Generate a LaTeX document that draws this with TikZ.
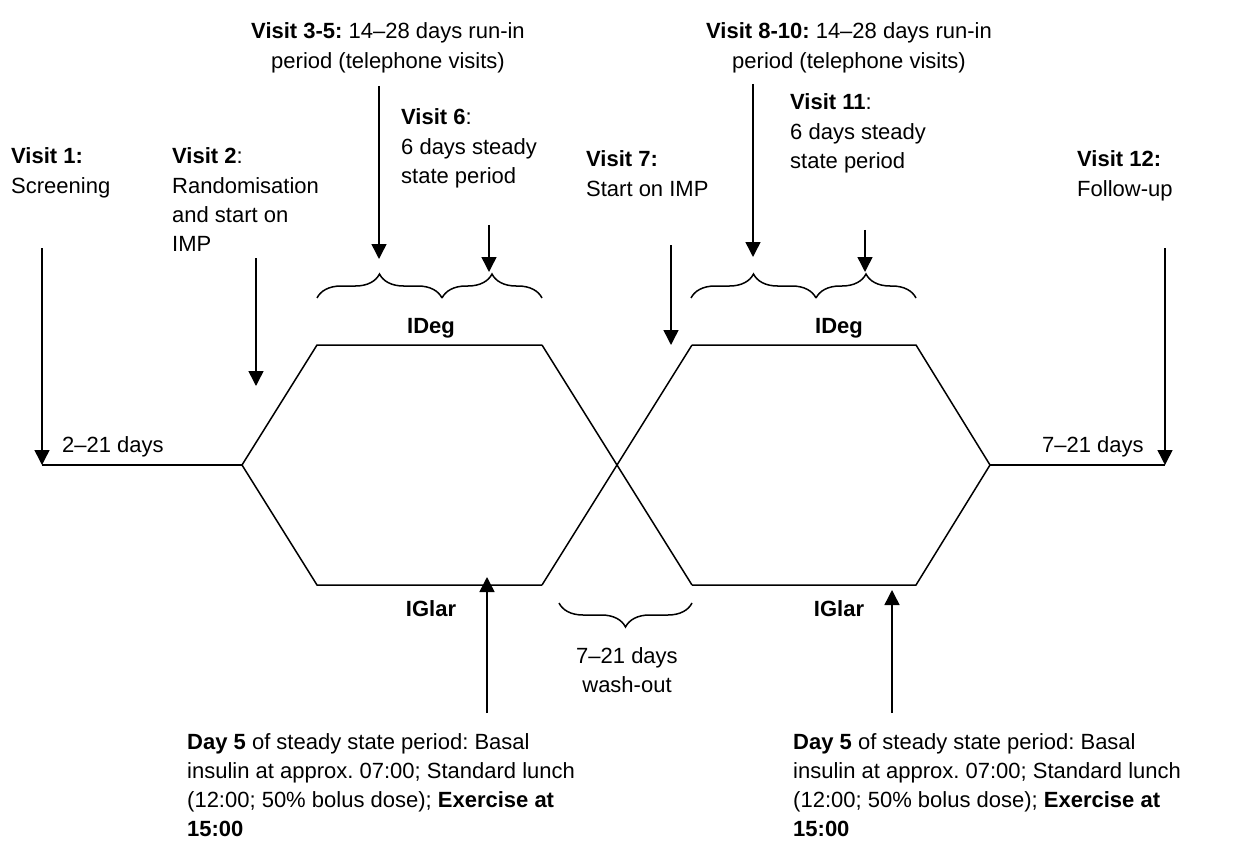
\documentclass[tikz,border=0pt]{standalone}
\usepackage{fontspec}
\setmainfont{Liberation Sans}
\usetikzlibrary{arrows.meta,decorations.pathreplacing}
\frenchspacing
\begin{document}
\begin{tikzpicture}[x=1pt,y=-1pt,
  txt/.style={inner sep=0pt,font=\fontsize{22}{29.3}\selectfont,align=left,anchor=base west},
  ctxt/.style={inner sep=0pt,font=\fontsize{22}{29.3}\selectfont,align=center,anchor=base},
  ln/.style={line width=1.5pt,line join=miter},
  arr/.style={line width=1.5pt,-{Triangle[width=15pt,length=15pt]}},
  brc/.style={line width=1.5pt,decorate,decoration={brace,amplitude=24pt}},
  brcm/.style={line width=1.5pt,decorate,decoration={brace,amplitude=24pt,mirror}}]
\useasboundingbox (0,0) rectangle (1242,853);
% timeline and hexagons
\coordinate (L0) at (42,465);
\coordinate (A) at (242,465);
\coordinate (B) at (317,345);
\coordinate (C) at (542,345);
\coordinate (D) at (542,585);
\coordinate (E) at (317,585);
\coordinate (F) at (692,345);
\coordinate (G) at (916,345);
\coordinate (H) at (990,465);
\coordinate (I) at (916,585);
\coordinate (J) at (692,585);
\coordinate (R0) at (1165,465);
\draw[ln] (L0) -- (A);
\draw[ln] (C) -- (B) -- (A) -- (E) -- (D);
\draw[ln] (C) -- (J);
\draw[ln] (D) -- (F);
\draw[ln] (F) -- (G) -- (H) -- (I) -- (J);
\draw[ln] (H) -- (R0);
% texts (anchor = baseline of last line)
\node[txt] (t1) at (11,193.3) {\textbf{Visit 1:}\\Screening};
\node[txt] (t2) at (172,251.9) {\textbf{Visit 2}:\\Randomisation\\and start on\\IMP};
\node[ctxt] (t35) at (388,68.3) {\textbf{Visit 3-5:} 14–28 days run-in\\period (telephone visits)};
\node[txt] (t6) at (401,183.6) {\textbf{Visit 6}:\\6 days steady\\state period};
\node[txt] (t7) at (586,196.3) {\textbf{Visit 7:}\\Start on IMP};
\node[ctxt] (t810) at (849,68.3) {\textbf{Visit 8-10:} 14–28 days run-in\\period (telephone visits)};
\node[txt] (t11) at (790,168.6) {\textbf{Visit 11}:\\6 days steady\\state period};
\node[txt] (t12) at (1077,196.3) {\textbf{Visit 12:}\\Follow-up};
\node[txt] (d1) at (62,452) {2–21 days};
\node[txt] (d2) at (1042,452) {7–21 days};
\node[ctxt] (ideg1) at (431,333) {\textbf{IDeg}};
\node[ctxt] (ideg2) at (839,333) {\textbf{IDeg}};
\node[ctxt] (iglar1) at (431,616) {\textbf{IGlar}};
\node[ctxt] (iglar2) at (839,616) {\textbf{IGlar}};
\node[ctxt] (wash) at (627,692.3) {7–21 days\\wash-out};
\node[txt] (day1) at (187,836.9) {\textbf{Day 5} of steady state period: Basal\\insulin at approx. 07:00; Standard lunch\\(12:00; 50\% bolus dose); \textbf{Exercise at}\\\textbf{15:00}};
\node[txt] (day2) at (793,836.9) {\textbf{Day 5} of steady state period: Basal\\insulin at approx. 07:00; Standard lunch\\(12:00; 50\% bolus dose); \textbf{Exercise at}\\\textbf{15:00}};
% braces
\draw[brc] (317,298) -- (442,298);
\draw[brc] (442,298) -- (542,298);
\draw[brc] (691,298) -- (816,298);
\draw[brc] (816,298) -- (916,298);
\draw[brcm] (559,603) -- (692,603);
% arrows
\coordinate (a1s) at (42,248); \coordinate (a1e) at (42,465);
\coordinate (a2s) at (256,258); \coordinate (a2e) at (256,386);
\coordinate (a35s) at (379,86); \coordinate (a35e) at (379,259);
\coordinate (a6s) at (489,225); \coordinate (a6e) at (489,272);
\coordinate (a7s) at (671,245); \coordinate (a7e) at (671,345);
\coordinate (a810s) at (753,84); \coordinate (a810e) at (753,257);
\coordinate (a11s) at (865,230); \coordinate (a11e) at (865,272);
\coordinate (a12s) at (1165,248); \coordinate (a12e) at (1165,465);
\coordinate (b1s) at (487,713); \coordinate (b1e) at (487,577);
\coordinate (b2s) at (892,713); \coordinate (b2e) at (892,590);
\draw[arr] (a1s) -- (a1e);
\draw[arr] (a2s) -- (a2e);
\draw[arr] (a35s) -- (a35e);
\draw[arr] (a6s) -- (a6e);
\draw[arr] (a7s) -- (a7e);
\draw[arr] (a810s) -- (a810e);
\draw[arr] (a11s) -- (a11e);
\draw[arr] (a12s) -- (a12e);
\draw[arr] (b1s) -- (b1e);
\draw[arr] (b2s) -- (b2e);
\end{tikzpicture}
\end{document}
